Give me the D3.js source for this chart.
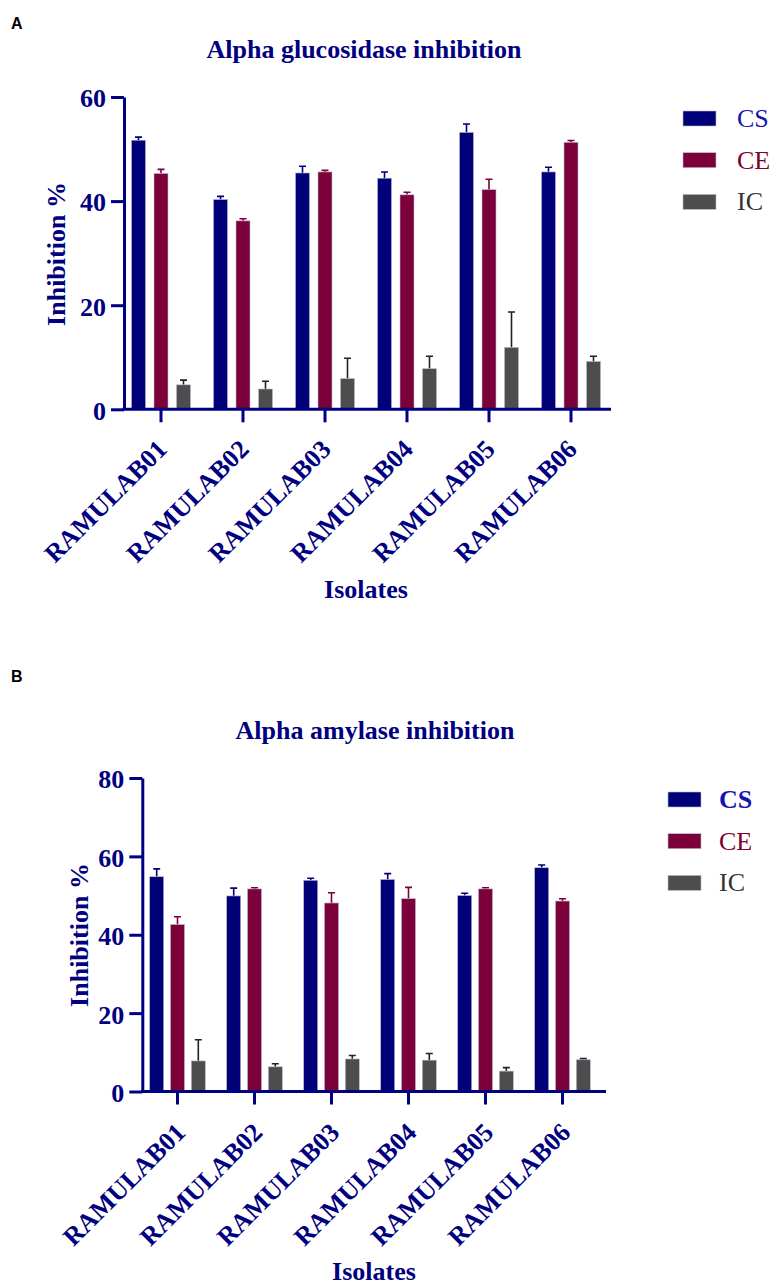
<!DOCTYPE html>
<html>
<head>
<meta charset="utf-8">
<script src="https://cdn.jsdelivr.net/npm/d3@7"></script>
<style>
    body { margin: 0; background: #fff; }
    svg { display: block; }
</style>
</head>
<body>
<div id="chart"></div>
<script>
var isolates = ["RAMULAB01", "RAMULAB02", "RAMULAB03", "RAMULAB04", "RAMULAB05", "RAMULAB06"];
var seriesNames = ["CS", "CE", "IC"];

// Alpha glucosidase inhibition (%), mean and upper error
var glucoCS = [51.7, 40.3, 45.4, 44.4, 53.2, 45.6];
var glucoCSErr = [0.6, 0.6, 1.3, 1.2, 1.6, 0.9];
var glucoCE = [45.3, 36.2, 45.6, 41.2, 42.2, 51.3];
var glucoCEErr = [0.8, 0.4, 0.3, 0.5, 2.0, 0.35];
var glucoIC = [4.7, 3.9, 5.9, 7.8, 11.9, 9.2];
var glucoICErr = [0.9, 1.5, 3.9, 2.4, 6.8, 1.0];
var glucoTicks = [0, 20, 40, 60];

// Alpha amylase inhibition (%), mean and upper error
var amylCS = [54.8, 49.9, 53.9, 54.1, 50.0, 57.1];
var amylCSErr = [2.0, 2.0, 0.5, 1.5, 0.6, 0.7];
var amylCE = [42.6, 51.7, 48.1, 49.2, 51.7, 48.6];
var amylCEErr = [2.0, 0.3, 2.6, 2.9, 0.3, 0.6];
var amylIC = [7.8, 6.3, 8.3, 8.0, 5.2, 8.1];
var amylICErr = [5.4, 0.8, 0.9, 1.7, 0.9, 0.3];
var amylTicks = [0, 20, 40, 60, 80];

var navy = "#000080";
var barColor = {"CS": "#000078", "CE": "#7c003a", "IC": "#4d4d4d"};
var errColor = {"CS": "#000078", "CE": "#7c003a", "IC": "#222"};
var legendColor = {"CS": "#1414b4", "CE": "#7c0028", "IC": "#333"};
var serif = "'Liberation Serif', 'Times New Roman', serif";

var svg = d3.select("#chart").append("svg")
    .attr("width", 776)
    .attr("height", 1285);

function drawPanel(p) {
    var g = svg.append("g");

    // panel letter
    g.append("text")
        .attr("x", 11)
        .attr("y", p.letterY)
        .style("font-family", "'Liberation Sans', Arial, sans-serif")
        .style("font-weight", "bold")
        .style("font-size", "16px")
        .text(p.letter);

    g.append("text")
        .attr("x", p.titleX)
        .attr("y", p.titleY)
        .style("text-anchor", "middle")
        .style("font-family", serif)
        .style("font-weight", "bold")
        .style("font-size", "26px")
        .style("fill", navy)
        .text(p.title);

    var x = d3.scaleBand()
        .domain(isolates)
        .range(p.xRange);

    var y = d3.scaleLinear()
        .domain([0, d3.max(p.ticks)])
        .range([p.y0, p.yTop]);

    var rows = [];
    isolates.forEach(function (iso, i) {
        seriesNames.forEach(function (s, j) {
            rows.push({iso: iso, s: s, j: j, v: p.values[s][i], e: p.errors[s][i]});
        });
    });

    function cx(d) {
        return x(d.iso) + x.bandwidth() / 2 + (d.j - 1) * p.step;
    }

    // error bars (upper only)
    g.selectAll(".err")
        .data(rows)
        .enter()
        .append("path")
        .attr("d", function (d) {
            var top = y(d.v + d.e);
            return "M" + cx(d) + "," + y(d.v) + "V" + top +
                "M" + (cx(d) - 3.5) + "," + top + "H" + (cx(d) + 3.5);
        })
        .style("fill", "none")
        .style("stroke", function (d) { return errColor[d.s]; })
        .style("stroke-width", 1.6);

    g.selectAll(".bar")
        .data(rows)
        .enter()
        .append("rect")
        .attr("x", function (d) { return cx(d) - p.barW / 2; })
        .attr("y", function (d) { return y(d.v); })
        .attr("width", p.barW)
        .attr("height", function (d) { return y(0) - y(d.v); })
        .style("fill", function (d) { return barColor[d.s]; })
        .style("stroke", "#b8b8d0")
        .style("stroke-width", 0.6);

    // y axis
    var yAxis = g.append("g")
        .attr("transform", "translate(" + p.axisX + ",0)")
        .call(d3.axisLeft(y).tickValues(p.ticks).tickSize(13).tickSizeOuter(0).tickPadding(5));

    // x axis
    var xAxis = g.append("g")
        .attr("transform", "translate(0," + p.y0 + ")")
        .call(d3.axisBottom(x).tickSize(13).tickSizeOuter(0));
    xAxis.select(".domain").attr("d", "M" + (p.axisX - 1.5) + ",0H" + p.axisEnd);

    [yAxis, xAxis].forEach(function (ax) {
        ax.selectAll("path, line")
            .style("stroke", navy)
            .style("stroke-width", 3);
        ax.selectAll("text")
            .style("fill", navy)
            .style("font-family", serif)
            .style("font-weight", "bold")
            .style("font-size", "26px");
    });
    yAxis.selectAll("text").attr("dy", "0.38em");

    xAxis.selectAll(".tick text")
        .attr("x", 0)
        .attr("y", 0)
        .attr("dy", "0.35em")
        .attr("transform", "translate(" + p.labelDx + "," + p.labelDy + ") rotate(-45)")
        .style("text-anchor", "end");

    // axis titles
    g.append("text")
        .attr("transform", "translate(" + p.yLabelX + "," + p.yLabelY + ") rotate(-90)")
        .style("text-anchor", "middle")
        .style("font-family", serif)
        .style("font-weight", "bold")
        .style("font-size", "26px")
        .style("fill", navy)
        .text("Inhibition %");

    g.append("text")
        .attr("x", p.xLabelX)
        .attr("y", p.xLabelY)
        .style("text-anchor", "middle")
        .style("font-family", serif)
        .style("font-weight", "bold")
        .style("font-size", "26px")
        .style("fill", navy)
        .text("Isolates");

    // legend
    var legend = g.selectAll(".legend")
        .data(seriesNames)
        .enter()
        .append("g")
        .attr("transform", function (d, i) {
            return "translate(" + p.legendX + "," + (p.legendY + i * 41.7) + ")";
        });

    legend.append("rect")
        .attr("width", 33)
        .attr("height", 15)
        .style("fill", function (d) { return barColor[d]; })
        .style("stroke", "#b8b8d0")
        .style("stroke-width", 0.6);

    legend.append("text")
        .attr("x", p.legendTextDx)
        .attr("y", 16)
        .style("font-family", serif)
        .style("font-size", "26px")
        .style("font-weight", function (d) { return (d === "CS" && p.boldCS) ? "bold" : "normal"; })
        .style("fill", function (d) { return legendColor[d]; })
        .text(function (d) { return d; });
}

drawPanel({
    letter: "A", letterY: 29,
    title: "Alpha glucosidase inhibition", titleX: 364, titleY: 58,
    values: {"CS": glucoCS, "CE": glucoCE, "IC": glucoIC},
    errors: {"CS": glucoCSErr, "CE": glucoCEErr, "IC": glucoICErr},
    ticks: glucoTicks,
    xRange: [120, 612], axisX: 124, axisEnd: 611,
    y0: 409.3, yTop: 97,
    step: 22.5, barW: 14,
    labelDx: 1, labelDy: 35,
    yLabelX: 65, yLabelY: 254,
    xLabelX: 366, xLabelY: 598,
    legendX: 683, legendY: 111, legendTextDx: 54, boldCS: false
});

drawPanel({
    letter: "B", letterY: 682,
    title: "Alpha amylase inhibition", titleX: 375, titleY: 739,
    values: {"CS": amylCS, "CE": amylCE, "IC": amylIC},
    errors: {"CS": amylCSErr, "CE": amylCEErr, "IC": amylICErr},
    ticks: amylTicks,
    xRange: [139, 601], axisX: 142.3, axisEnd: 606,
    y0: 1091.5, yTop: 778,
    step: 20.8, barW: 14,
    labelDx: 3, labelDy: 36,
    yLabelX: 88, yLabelY: 935,
    xLabelX: 374, xLabelY: 1280,
    legendX: 668, legendY: 792, legendTextDx: 51, boldCS: true
});
</script>
</body>
</html>
